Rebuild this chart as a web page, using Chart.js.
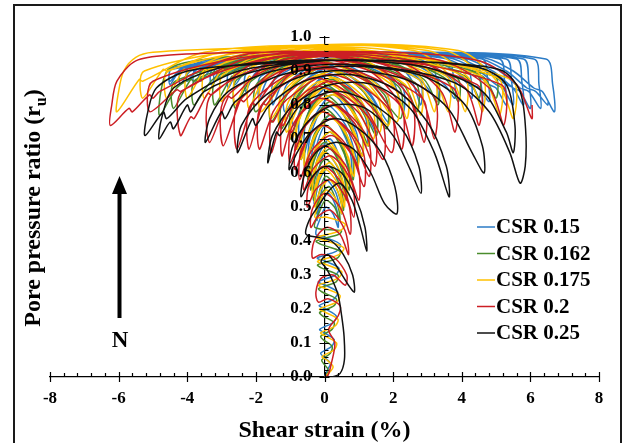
<!DOCTYPE html>
<html>
<head>
<meta charset="utf-8">
<script src="https://cdn.jsdelivr.net/npm/chart.js@4"></script>
<style>
  html, body { margin: 0; padding: 0; background: #fff; }
  canvas { display: block; }
</style>
</head>
<body>
<canvas id="chart" width="627" height="443"></canvas>
<script>
const seriesNames = ["CSR 0.15", "CSR 0.162", "CSR 0.175", "CSR 0.2", "CSR 0.25"]
const seriesColors = ["#2b7bc6", "#4a8c2c", "#ffc000", "#cc1e24", "#111111"]
const xTickValues = [-8, -6, -4, -2, 0, 2, 4, 6, 8]
const yTickValues = [0, 0.1, 0.2, 0.3, 0.4, 0.5, 0.6, 0.7, 0.8, 0.9, 1.0]

// [shear strain %, ru]
const csr015 = [
  [0,0],[0.08,0.02],[0.17,0.04],[-0.03,0.06],[-0.11,0.07],[0.21,0.09],[0.28,0.11],[0,0.13],[-0.14,0.14],[0.25,0.16],
  [0.34,0.18],[0.03,0.2],[-0.15,0.21],[0.28,0.23],[0.38,0.25],[0.03,0.27],[-0.18,0.28],[0.32,0.3],[0.42,0.32],[0.04,0.34],
  [-0.21,0.35],[0.35,0.37],[0.46,0.39],[0.04,0.41],[-0.25,0.42],
  [-0.13,0.465],[0.04,0.5],[0.25,0.48],[0.4,0.44],
  [0.35,0.495],[0.12,0.54],[-0.1,0.515],[-0.22,0.46],
  [-0.17,0.505],[0.03,0.58],[0.32,0.545],[0.5,0.48],
  [0.45,0.555],[0.14,0.62],[-0.14,0.58],[-0.3,0.51],
  [-0.25,0.57],[0.02,0.66],[0.39,0.615],[0.62,0.53],
  [0.57,0.6],[0.17,0.7],[-0.18,0.65],[-0.38,0.56],
  [-0.33,0.64],[0.03,0.74],[0.49,0.685],[0.78,0.58],
  [0.73,0.67],[0.2,0.77],[-0.22,0.715],[-0.47,0.61],
  [-0.42,0.705],[0.04,0.8],[0.62,0.74],[0.98,0.63],
  [0.93,0.72],[0.28,0.83],[-0.27,0.77],[-0.58,0.66],
  [-0.53,0.755],[0.05,0.85],[0.77,0.79],[1.22,0.68],
  [1.17,0.77],[0.35,0.87],[-0.33,0.81],[-0.72,0.7],
  [-0.67,0.795],[0.06,0.89],[0.95,0.83],[1.5,0.72],
  [1.45,0.81],[0.42,0.9],[-0.42,0.845],[-0.9,0.74],
  [-0.85,0.835],[0.06,0.91],[1.16,0.855],[1.85,0.75],
  [1.8,0.835],[0.5,0.92],[-0.55,0.87],[-1.15,0.78],
  [-1.1,0.86],[0.05,0.93],[1.5,0.915],[2.0,0.87],[2.3,0.78],
  [2.25,0.855],[0.6,0.935],[-0.5,0.92],[-1.2,0.87],[-1.5,0.8],
  [-1.45,0.875],[0,0.94],[1.9,0.93],[2.5,0.88],[2.8,0.8],
  [2.75,0.875],[0.7,0.945],[-0.8,0.93],[-1.6,0.885],[-1.9,0.82],
  [-1.85,0.885],[0,0.95],[1.8,0.93],[2.6,0.89],[3.0,0.85],[3.3,0.81],
  [3.25,0.88],[3.1,0.93],[0.8,0.95],[-1.0,0.94],[-2.0,0.895],[-2.3,0.84],
  [-2.25,0.895],[0,0.95],[2.2,0.935],[3.0,0.9],[3.5,0.86],[3.8,0.82],
  [3.75,0.89],[3.6,0.935],[1.0,0.95],[-1.3,0.94],[-2.5,0.9],[-2.8,0.85],
  [-2.75,0.9],[0,0.955],[2.6,0.94],[3.4,0.9],[3.9,0.86],[4.1,0.85],[4.3,0.82],
  [4.25,0.89],[4.1,0.935],[1.2,0.955],[-1.6,0.94],[-3.0,0.905],[-3.3,0.86],
  [-3.25,0.905],[0,0.955],[3.0,0.94],[3.8,0.9],[4.3,0.86],[4.5,0.85],[4.8,0.81],
  [4.75,0.88],[4.6,0.935],[1.4,0.955],[-2.0,0.94],[-3.5,0.905],[-3.8,0.86],
  [-3.75,0.905],[0,0.955],[3.4,0.94],[4.3,0.9],[4.8,0.86],[5.0,0.85],[5.3,0.8],
  [5.25,0.87],[5.1,0.935],[1.6,0.955],[-2.4,0.94],[-3.9,0.9],[-4.2,0.86],
  [-4.15,0.905],[0,0.955],[3.8,0.94],[4.7,0.9],[5.3,0.86],[5.5,0.85],[5.8,0.8],
  [5.75,0.87],[5.6,0.935],[1.8,0.955],[-2.8,0.94],[-4.2,0.9],[-4.5,0.86],
  [-4.45,0.905],[0,0.955],[4.2,0.94],[5.1,0.9],[5.7,0.85],[5.95,0.84],[6.3,0.79],
  [6.25,0.86],[6.1,0.935],[2,0.955],[-3,0.94],[-4.2,0.905],[-4.5,0.87],
  [-4.45,0.91],[0,0.955],[4.6,0.94],[5.5,0.9],[6.1,0.85],[6.35,0.84],[6.7,0.78],
  [6.65,0.86],[6.45,0.935],[2,0.955],[-2.5,0.94],[-3.7,0.905],[-4.0,0.87],
  [-3.95,0.91],[0,0.955],[3.6,0.94],[4.5,0.9],[5.0,0.86],[5.2,0.85],[5.5,0.8],
  [5.45,0.87],[5.3,0.935],[1.6,0.955],[-2.2,0.94],[-3.3,0.905],[-3.6,0.87],
  [-3.55,0.91],[0,0.955],[4.0,0.94],[4.9,0.9],[5.5,0.85],[5.7,0.84],[6.0,0.79],
  [5.95,0.87],[5.8,0.935],[1.8,0.955],[-2,0.94],[-2.9,0.905],[-3.2,0.87],
  [-3.15,0.91],[0,0.955],[3.0,0.94],[3.8,0.9],[4.2,0.86],[4.35,0.85],[4.6,0.8],
  [4.55,0.87],[4.4,0.935],[1.2,0.955],[-1.5,0.94],[-2.3,0.9],[-2.6,0.86],
  [-2.55,0.91],[0,0.955],[4.4,0.94],[5.3,0.9],[5.9,0.85],[6.15,0.84],[6.5,0.8],[6.52,0.81]
]

const csr0162 = [
  [0.02,0],[0.11,0.02],[-0.03,0.04],[-0.08,0.05],[0.17,0.07],[0.22,0.09],[-0.04,0.11],[-0.11,0.12],[0.22,0.14],[0.28,0.16],
  [-0.06,0.18],[-0.14,0.19],[0.28,0.21],[0.34,0.23],[-0.07,0.25],[-0.17,0.26],[0.34,0.28],[0.39,0.3],[-0.08,0.32],[-0.2,0.33],
  [0.38,0.35],[0.45,0.37],[-0.1,0.39],[-0.24,0.4],[0.42,0.42],[0.49,0.43],[-0.28,0.44],
  [-0.15,0.485],[0.03,0.52],[0.29,0.5],[0.45,0.46],
  [0.4,0.5],[0.14,0.56],[-0.11,0.535],[-0.25,0.48],
  [-0.2,0.525],[0.03,0.59],[0.35,0.555],[0.55,0.49],
  [0.5,0.545],[0.16,0.62],[-0.15,0.585],[-0.32,0.52],
  [-0.27,0.585],[0.01,0.64],[0.39,0.6],[0.63,0.52],
  [0.58,0.585],[0.17,0.67],[-0.19,0.63],[-0.4,0.55],
  [-0.35,0.62],[-0.01,0.69],[0.44,0.64],[0.72,0.55],
  [0.67,0.63],[0.18,0.72],[-0.24,0.67],[-0.48,0.58],
  [-0.43,0.66],[-0.02,0.74],[0.5,0.685],[0.83,0.58],
  [0.78,0.67],[0.19,0.77],[-0.29,0.715],[-0.57,0.61],
  [-0.52,0.7],[-0.04,0.79],[0.57,0.73],[0.95,0.62],
  [0.9,0.7],[0.21,0.81],[-0.35,0.75],[-0.68,0.64],
  [-0.63,0.72],[-0.06,0.83],[0.66,0.77],[1.1,0.65],
  [1.05,0.735],[0.24,0.845],[-0.43,0.785],[-0.82,0.67],
  [-0.77,0.75],[-0.09,0.86],[0.75,0.8],[1.28,0.68],
  [1.23,0.76],[0.25,0.875],[-0.54,0.815],[-1.0,0.7],
  [-0.95,0.79],[-0.12,0.89],[0.88,0.83],[1.5,0.71],
  [1.45,0.8],[0.26,0.9],[-0.7,0.84],[-1.25,0.73],
  [-1.2,0.82],[-0.18,0.91],[1.04,0.85],[1.8,0.73],
  [1.75,0.83],[0.29,0.92],[-0.88,0.86],[-1.55,0.75],
  [-1.5,0.845],[-0.24,0.93],[1.26,0.87],[2.2,0.76],
  [2.15,0.855],[0.31,0.935],[-1.16,0.88],[-2.0,0.78],
  [-1.95,0.865],[-0.37,0.94],[1.0,0.93],[2.3,0.86],[2.7,0.78],
  [2.65,0.865],[0.3,0.945],[-1.0,0.93],[-2.2,0.865],[-2.6,0.79],
  [-2.55,0.875],[-0.5,0.95],[1.5,0.94],[2.9,0.875],[3.3,0.8],
  [3.25,0.875],[0.4,0.95],[-1.3,0.935],[-2.6,0.88],[-2.7,0.885],[-3.2,0.8],
  [-3.15,0.875],[-0.7,0.95],[1.8,0.94],[3.5,0.88],[3.9,0.81],
  [3.85,0.88],[0.4,0.95],[-1.6,0.935],[-3.2,0.88],[-3.8,0.8],
  [-3.75,0.875],[-0.9,0.95],[2.2,0.94],[4.1,0.885],[4.5,0.82],
  [4.45,0.885],[0.5,0.95],[-2.0,0.935],[-3.8,0.87],[-3.9,0.875],[-4.4,0.79],
  [-4.35,0.87],[-1.0,0.95],[2.5,0.945],[4.6,0.885],[5.0,0.82],
  [4.95,0.885],[0.5,0.95],[-2.3,0.935],[-4.2,0.86],[-4.8,0.77],
  [-4.75,0.85],[-4.5,0.91],[-3,0.94],[0,0.95]
]

const csr0175 = [
  [0,0],[0.11,0.01],[0.25,0.03],[0.07,0.05],[-0.07,0.06],[0.28,0.08],[0.35,0.1],[0.03,0.12],[-0.11,0.13],[0.31,0.15],
  [0.39,0.17],[0.03,0.19],[-0.14,0.2],[0.35,0.22],[0.45,0.24],[0.04,0.26],[-0.17,0.27],[0.39,0.29],[0.5,0.31],[0.06,0.33],
  [-0.2,0.34],[0.42,0.36],[0.56,0.38],[0.07,0.4],[-0.22,0.41],[0.45,0.43],[0.6,0.45],[0.07,0.47],[-0.28,0.47],
  [-0.15,0.51],[0.05,0.55],[0.32,0.525],[0.5,0.48],
  [0.45,0.53],[0.15,0.58],[-0.12,0.55],[-0.28,0.5],
  [-0.23,0.56],[0.02,0.61],[0.37,0.571],[0.58,0.5],
  [0.53,0.565],[0.16,0.63],[-0.16,0.595],[-0.35,0.53],
  [-0.3,0.6],[0,0.66],[0.41,0.615],[0.66,0.53],
  [0.61,0.6],[0.17,0.68],[-0.2,0.64],[-0.42,0.56],
  [-0.37,0.63],[-0.01,0.7],[0.46,0.65],[0.75,0.56],
  [0.7,0.645],[0.19,0.72],[-0.25,0.675],[-0.5,0.59],
  [-0.45,0.66],[-0.03,0.74],[0.51,0.69],[0.85,0.59],
  [0.8,0.68],[0.21,0.76],[-0.29,0.71],[-0.58,0.62],
  [-0.53,0.7],[-0.04,0.78],[0.58,0.725],[0.97,0.62],
  [0.92,0.71],[0.23,0.8],[-0.35,0.745],[-0.68,0.64],
  [-0.63,0.73],[-0.06,0.82],[0.66,0.76],[1.1,0.65],
  [1.05,0.745],[0.25,0.83],[-0.42,0.775],[-0.8,0.67],
  [-0.75,0.76],[-0.08,0.85],[0.74,0.79],[1.25,0.68],
  [1.2,0.77],[0.26,0.86],[-0.51,0.805],[-0.95,0.7],
  [-0.9,0.79],[-0.12,0.87],[0.83,0.81],[1.42,0.7],
  [1.37,0.795],[0.29,0.88],[-0.6,0.825],[-1.1,0.72],
  [-1.05,0.81],[-0.15,0.89],[0.93,0.83],[1.6,0.72],
  [1.55,0.82],[0.3,0.9],[-0.72,0.845],[-1.3,0.74],
  [-1.25,0.83],[-0.2,0.91],[1.06,0.85],[1.85,0.74],
  [1.8,0.835],[0.32,0.92],[-0.87,0.865],[-1.55,0.76],
  [-1.5,0.85],[-0.27,0.93],[1.19,0.87],[2.1,0.75],
  [2.05,0.85],[0.32,0.935],[-1.06,0.88],[-1.85,0.78],
  [-1.8,0.865],[-0.36,0.94],[1.2,0.93],[2.0,0.86],[2.4,0.76],
  [2.35,0.86],[0.33,0.945],[-1.0,0.93],[-1.8,0.87],[-2.2,0.79],
  [-2.15,0.875],[-0.45,0.95],[1.5,0.94],[2.4,0.87],[2.8,0.77],
  [2.75,0.875],[0.37,0.955],[-1.2,0.94],[-2.1,0.88],[-2.2,0.885],[-2.6,0.8],
  [-2.55,0.885],[-0.57,0.96],[1.8,0.95],[2.8,0.88],[3.2,0.78],
  [3.15,0.885],[0.41,0.96],[-1.5,0.945],[-2.5,0.89],[-2.6,0.895],[-3.0,0.81],
  [-2.95,0.89],[-0.69,0.965],[2.2,0.955],[3.2,0.88],[3.6,0.78],
  [3.55,0.885],[0.4,0.965],[-1.8,0.95],[-2.9,0.9],[-3.0,0.905],[-3.5,0.82],
  [-3.45,0.9],[-0.84,0.97],[2.6,0.96],[3.7,0.88],[4.1,0.78],
  [4.05,0.885],[0.45,0.97],[-2.2,0.955],[-3.4,0.9],[-3.5,0.905],[-4.0,0.82],
  [-3.95,0.9],[-1.0,0.97],[3.0,0.96],[4.2,0.88],[4.6,0.78],
  [4.55,0.885],[0.46,0.97],[-2.6,0.955],[-4.0,0.9],[-4.1,0.905],[-4.6,0.82],
  [-4.55,0.9],[-1.2,0.97],[3.5,0.96],[4.7,0.87],[5.1,0.77],
  [5.05,0.88],[0.42,0.97],[-3.0,0.955],[-4.6,0.9],[-4.7,0.905],[-5.3,0.82],
  [-5.25,0.9],[-1.5,0.97],[3.9,0.96],[5.1,0.86],[5.5,0.76],
  [5.45,0.875],[0.3,0.97],[-3.5,0.955],[-5.3,0.87],[-5.4,0.875],[-6.05,0.78],
  [-6.0,0.84],[-5.85,0.9],[-5.5,0.94],[-5,0.955],[-2,0.968],[0,0.97]
]

const csr02 = [
  [0,0],[0.1,0.005],[0.2,0.04],[0.3,0.1],[0.12,0.14],[0.4,0.18],[0.45,0.21],[0.1,0.23],[-0.18,0.22],[-0.25,0.25],
  [-0.1,0.29],[0.25,0.3],[0.6,0.27],[0.65,0.3],[0.3,0.35],[-0.1,0.36],[-0.35,0.35],[-0.3,0.4],[0.05,0.44],[0.45,0.42],[0.7,0.36],
  [0.6,0.43],[0.18,0.49],[-0.19,0.472],[-0.4,0.44],
  [-0.35,0.495],[0,0.54],[0.46,0.498],[0.75,0.42],
  [0.7,0.51],[0.19,0.58],[-0.25,0.552],[-0.5,0.5],
  [-0.45,0.565],[-0.03,0.62],[0.51,0.568],[0.85,0.47],
  [0.8,0.57],[0.2,0.65],[-0.31,0.615],[-0.6,0.55],
  [-0.55,0.62],[-0.04,0.68],[0.6,0.625],[1.0,0.52],
  [0.95,0.625],[0.23,0.71],[-0.38,0.665],[-0.72,0.58],
  [-0.67,0.67],[-0.07,0.74],[0.68,0.677],[1.15,0.56],
  [1.1,0.67],[0.25,0.76],[-0.45,0.708],[-0.85,0.61],
  [-0.8,0.7],[-0.1,0.78],[0.76,0.713],[1.3,0.59],
  [1.25,0.705],[0.27,0.8],[-0.54,0.74],[-1.0,0.63],
  [-0.95,0.735],[-0.14,0.82],[0.85,0.75],[1.46,0.62],
  [1.41,0.745],[0.25,0.84],[-0.7,0.773],[-0.95,0.72],[-1.02,0.725],[-1.24,0.65],
  [-1.19,0.763],[-0.21,0.855],[0.97,0.78],[1.7,0.64],
  [1.65,0.758],[0.24,0.87],[-0.9,0.797],[-1.2,0.74],[-1.28,0.745],[-1.55,0.66],
  [-1.5,0.78],[-0.33,0.88],[1.08,0.803],[1.95,0.66],
  [1.9,0.785],[0.22,0.89],[-1.13,0.813],[-1.5,0.75],[-1.58,0.756],[-1.9,0.67],
  [-1.85,0.797],[-0.45,0.9],[1.0,0.89],[1.85,0.8],[2.25,0.67],
  [2.2,0.8],[0.25,0.91],[-1.0,0.89],[-1.7,0.8],[-1.8,0.805],[-2.2,0.67],
  [-2.15,0.8],[-0.5,0.915],[1.2,0.905],[2.15,0.81],[2.55,0.68],
  [2.5,0.81],[0.3,0.92],[-1.2,0.9],[-2.0,0.8],[-2.1,0.805],[-2.55,0.67],
  [-2.5,0.81],[-0.6,0.925],[1.5,0.91],[2.5,0.82],[2.9,0.69],
  [2.85,0.82],[0.3,0.93],[-1.4,0.91],[-2.35,0.81],[-2.45,0.815],[-2.95,0.68],
  [-2.9,0.82],[-0.8,0.935],[1.7,0.92],[2.8,0.83],[3.2,0.7],
  [3.15,0.83],[0.4,0.94],[-1.6,0.92],[-2.7,0.82],[-2.8,0.825],[-3.35,0.69],
  [-3.3,0.83],[-0.9,0.94],[2.2,0.925],[3.4,0.84],[3.8,0.72],
  [3.75,0.85],[0.4,0.945],[-2.0,0.925],[-3.3,0.83],[-3.4,0.835],[-3.8,0.76],[-3.9,0.765],[-4.2,0.71],
  [-4.15,0.84],[-1.2,0.945],[2.6,0.93],[4.1,0.85],[4.5,0.74],
  [4.45,0.86],[0.5,0.95],[-2.3,0.935],[-4.2,0.84],[-4.3,0.845],[-5.09,0.78],
  [-5.0,0.87],[-1.5,0.95],[3.2,0.935],[4.8,0.85],[5.22,0.74],
  [5.15,0.86],[0.5,0.95],[-2.5,0.945],[-4.8,0.84],[-5.0,0.82],[-5.1,0.83],[-5.6,0.78],[-5.7,0.79],[-6.24,0.74],
  [-6.2,0.8],[-6.05,0.87],[-5.5,0.93],[-4.5,0.947],[-2,0.955],[2,0.955],[4.5,0.93],[5.6,0.86],[6.04,0.76],[6.05,0.8]
]

const csr025 = [
  [0,0],[0.2,0],[0.45,0.01],[0.58,0.05],[0.57,0.12],[0.5,0.18],[0.4,0.24],[0.25,0.28],[0.05,0.32],[-0.1,0.34],
  [0.1,0.36],[0.45,0.31],[0.7,0.27],[0.87,0.25],
  [0.82,0.3],[0.55,0.36],[0.2,0.4],[-0.15,0.41],[-0.54,0.42],
  [-0.45,0.46],[-0.2,0.5],[0.15,0.55],[0.45,0.57],[0.8,0.52],[1.05,0.44],[1.23,0.37],
  [1.18,0.44],[0.9,0.53],[0.5,0.6],[0.05,0.62],[-0.35,0.59],[-0.68,0.53],
  [-0.6,0.59],[-0.25,0.66],[0.3,0.69],[0.85,0.67],[1.35,0.6],[1.75,0.51],[2.11,0.48],
  [2.05,0.56],[1.65,0.66],[1.0,0.73],[0.3,0.76],[-0.4,0.72],[-0.8,0.66],[-1.03,0.61],
  [-0.92,0.68],[-0.4,0.76],[0.3,0.8],[1.2,0.79],[2.0,0.71],[2.5,0.61],[2.81,0.54],
  [2.75,0.62],[2.25,0.73],[1.3,0.81],[0.3,0.84],[-0.7,0.8],[-1.3,0.71],[-1.4,0.72],[-1.65,0.63],
  [-1.52,0.71],[-0.9,0.8],[0.2,0.86],[1.4,0.86],[2.5,0.79],[3.2,0.66],[3.63,0.53],
  [3.55,0.62],[3.0,0.75],[2.0,0.85],[0.7,0.89],[-0.6,0.87],[-1.6,0.8],[-2.0,0.74],[-2.1,0.76],[-2.53,0.66],
  [-2.42,0.74],[-1.7,0.83],[-0.5,0.89],[1.0,0.9],[2.5,0.87],[3.6,0.79],[4.3,0.66],[4.65,0.6],
  [4.6,0.68],[4.1,0.8],[3.0,0.88],[1.5,0.91],[0,0.91],[-1.5,0.88],[-2.6,0.81],[-2.9,0.76],[-3.0,0.78],[-3.47,0.69],
  [-3.35,0.76],[-2.8,0.84],[-1.5,0.9],[0.5,0.92],[2.5,0.9],[3.9,0.86],[4.8,0.78],[5.4,0.66],[5.7,0.57],
  [5.85,0.62],[5.86,0.73],[5.7,0.84],[5.2,0.9],[4,0.92],[2,0.93],[0,0.93],[-2,0.9],[-3.5,0.84],[-3.9,0.78],[-4.0,0.8],[-4.4,0.73],[-4.5,0.75],[-4.82,0.7],
  [-4.75,0.76],[-4.4,0.85],[-3,0.91],[-1,0.93],[1,0.93],[3,0.91],[4.6,0.84],[5.3,0.72],[5.5,0.66],
  [5.55,0.74],[5.3,0.86],[4.5,0.91],[2,0.93],[0,0.93],[-2.5,0.9],[-4,0.82],[-4.6,0.76],[-4.7,0.78],[-5.23,0.71],
  [-5.15,0.78],[-4.9,0.85],[-4,0.9],[-2,0.92],[0,0.93]
]

const allSeries = [csr015, csr0162, csr0175, csr02, csr025]

const serif = "'Liberation Serif', 'Times New Roman', serif"

// frame, crossing ticks, labels, titles, arrow and legend
const decorPlugin = {
  id: "decor",
  afterDraw(chart) {
    const c = chart.ctx
    const xs = chart.scales.x
    const ys = chart.scales.y
    const x0 = xs.getPixelForValue(0)
    const y0 = ys.getPixelForValue(0)

    c.save()
    c.strokeStyle = "#1a1a1a"
    c.lineWidth = 2
    c.strokeRect(14, 5, 607, 448)

    c.strokeStyle = "#000"
    c.lineWidth = 1.2
    c.beginPath()
    for (let k = -20; k <= 20; k++) {
      const px = Math.round(xs.getPixelForValue(k * 0.4)) + 0.5
      if (k % 5 === 0) {
        c.moveTo(px, y0 - 5); c.lineTo(px, y0 + 5)
      } else {
        c.moveTo(px, y0 - 4); c.lineTo(px, y0)
      }
    }
    for (let k = 0; k <= 50; k++) {
      const py = Math.round(ys.getPixelForValue(k * 0.02)) + 0.5
      if (k % 5 === 0) {
        c.moveTo(x0 - 5, py); c.lineTo(x0 + 5, py)
      } else {
        c.moveTo(x0, py); c.lineTo(x0 + 4, py)
      }
    }
    c.stroke()

    c.fillStyle = "#000"
    c.font = "bold 17px " + serif
    c.textAlign = "center"
    c.textBaseline = "middle"
    xTickValues.forEach(v => {
      c.fillText(String(v), xs.getPixelForValue(v), y0 + 22)
    })
    c.textAlign = "right"
    yTickValues.forEach(v => {
      c.fillText(v.toFixed(1), x0 - 13, ys.getPixelForValue(v))
    })

    // x title
    c.font = "bold 24px " + serif
    c.textAlign = "center"
    c.textBaseline = "alphabetic"
    c.fillText("Shear strain (%)", (xs.left + xs.right) / 2, 437)

    // y title with subscript
    c.save()
    c.translate(40, 208)
    c.rotate(-Math.PI / 2)
    const main = "Pore pressure ratio (r"
    const big = "bold 24px " + serif
    const small = "bold 16px " + serif
    c.font = big
    const w1 = c.measureText(main).width
    const w3 = c.measureText(")").width
    c.font = small
    const w2 = c.measureText("u").width
    const sx = -(w1 + w2 + w3) / 2
    c.textAlign = "left"
    c.font = big
    c.fillText(main, sx, 0)
    c.font = small
    c.fillText("u", sx + w1, 6)
    c.font = big
    c.fillText(")", sx + w1 + w2, 0)
    c.restore()

    // arrow and N
    c.lineWidth = 4
    c.beginPath()
    c.moveTo(119.5, 318)
    c.lineTo(119.5, 190)
    c.stroke()
    c.beginPath()
    c.moveTo(119.5, 176)
    c.lineTo(112, 194)
    c.lineTo(127, 194)
    c.closePath()
    c.fill()
    c.font = "bold 23px " + serif
    c.textAlign = "center"
    c.textBaseline = "middle"
    c.fillText("N", 120, 341)

    // legend
    c.font = "bold 21px " + serif
    c.textAlign = "left"
    c.textBaseline = "middle"
    seriesNames.forEach((name, i) => {
      const ly = 227 + i * 26.5
      c.strokeStyle = seriesColors[i]
      c.lineWidth = 1.5
      c.beginPath()
      c.moveTo(477, ly)
      c.lineTo(495, ly)
      c.stroke()
      c.fillStyle = "#000"
      c.fillText(name, 496, ly + 1)
    })
    c.restore()
  }
}

const ctx = document.getElementById("chart").getContext("2d")

const chart = new Chart(ctx, {
  type: "scatter",
  data: {
    datasets: allSeries.map((s, i) => ({
      label: seriesNames[i],
      data: s.map(p => ({ x: p[0], y: p[1] })),
      showLine: true,
      borderColor: seriesColors[i],
      borderWidth: 1.5,
      pointRadius: 0,
      tension: 0.3,
      order: allSeries.length - i
    }))
  },
  options: {
    responsive: false,
    animation: false,
    events: [],
    layout: { padding: { left: 50, right: 28, top: 37, bottom: 66 } },
    plugins: {
      legend: { display: false },
      tooltip: { enabled: false }
    },
    scales: {
      x: {
        type: "linear",
        min: -8,
        max: 8,
        position: { y: 0 },
        grid: { display: false },
        border: { display: true, color: "#000", width: 1.2 },
        ticks: { display: false, stepSize: 2 }
      },
      y: {
        type: "linear",
        min: 0,
        max: 1,
        position: { x: 0 },
        grid: { display: false },
        border: { display: true, color: "#000", width: 1.2 },
        ticks: { display: false, stepSize: 0.1 }
      }
    }
  },
  plugins: [decorPlugin]
})
</script>
</body>
</html>
